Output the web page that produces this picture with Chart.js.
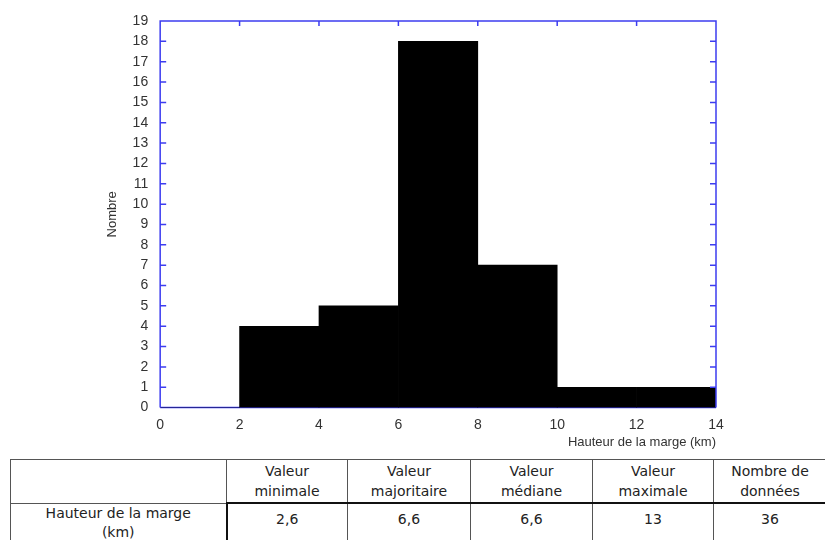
<!DOCTYPE html>
<html lang="fr">
<head>
<meta charset="utf-8">
<script src="https://cdn.jsdelivr.net/npm/chart.js@4/dist/chart.umd.min.js"></script>
<style>
  html, body { margin: 0; padding: 0; background: #fff; overflow: hidden; }
  body { width: 825px; height: 540px; position: relative; }
  #zone { position: absolute; left: 0; top: 0; width: 825px; height: 450px; }
  table {
    position: absolute; left: 10px; top: 459px; width: 816px;
    border-collapse: collapse; font-family: "DejaVu Sans", Verdana, sans-serif;
    font-size: 14px; color: #222; table-layout: fixed;
  }
  td { border: 1px solid #555; text-align: center; padding: 0; line-height: 20px; }
  tr.tete td { height: 42px; }
  tr.ligne td { height: 46px; vertical-align: top; padding-top: 0; line-height: 19px; }
  tr.ligne td.v { border-top: 2px solid #111; }
  tr.ligne td.v1 { border-left: 2px solid #111; }
  td.pointille { border-right: 1.5px dashed #333; }
  tr.ligne td.num { padding-top: 5px; line-height: 20px; }
</style>
</head>
<body>
<div id="zone"><canvas id="histo"></canvas></div>
<table>
  <colgroup>
    <col style="width:216px"><col style="width:121px"><col style="width:123px">
    <col style="width:122px"><col style="width:121px"><col style="width:113px">
  </colgroup>
  <tr class="tete" id="entetes"></tr>
  <tr class="ligne" id="valeurs"></tr>
</table>
<script>
// Classes de l'histogramme (centre de chaque intervalle de 2 km)
const centres = [1, 3, 5, 7, 9, 11, 13];
const effectifs = [0, 4, 5, 18, 7, 1, 1];
const graduationsX = [0, 2, 4, 6, 8, 10, 12, 14];

// Tableau sous le graphique
const colonnes = ['', 'Valeur<br>minimale', 'Valeur<br>majoritaire', 'Valeur<br>médiane', 'Valeur<br>maximale', 'Nombre de<br>données'];
const ligneNom = 'Hauteur de la marge<br>(km)';
const ligneValeurs = ['2,6', '6,6', '6,6', '13', '36'];

const bleu = '#3c3cf0';
const police = { family: 'Liberation Sans, Arial, sans-serif', size: 14 };

// cadre bleu avec graduations intérieures
const cadre = {
    id: 'cadre',
    beforeDatasetsDraw(chart) {
        const { ctx, chartArea: a } = chart;
        ctx.save();
        ctx.strokeStyle = bleu;
        ctx.lineWidth = 1.5;
        ctx.beginPath();
        ctx.moveTo(a.left, a.bottom);
        ctx.lineTo(a.right, a.bottom);
        ctx.stroke();
        ctx.restore();
    },
    afterDatasetsDraw(chart) {
        const { ctx, chartArea: a, scales } = chart;
        ctx.save();
        ctx.strokeStyle = bleu;
        ctx.lineWidth = 1.5;
        ctx.beginPath();
        ctx.moveTo(a.left, a.bottom);
        ctx.lineTo(a.left, a.top);
        ctx.lineTo(a.right, a.top);
        ctx.lineTo(a.right, a.bottom);
        for (let v = 1; v < 19; v++) {
            const y = scales.y.getPixelForValue(v);
            ctx.moveTo(a.left, y);
            ctx.lineTo(a.left + 6, y);
            ctx.moveTo(a.right, y);
            ctx.lineTo(a.right - 6, y);
        }
        graduationsX.slice(1, -1).forEach(v => {
            const x = scales.x.getPixelForValue(v);
            ctx.moveTo(x, a.top);
            ctx.lineTo(x, a.top + 5);
        });
        ctx.stroke();
        ctx.restore();
    }
};

new Chart(document.getElementById('histo'), {
    type: 'bar',
    data: {
        datasets: [{
            data: centres.map((c, i) => ({ x: c, y: effectifs[i] })),
            backgroundColor: '#000',
            borderWidth: 0,
            barPercentage: 1,
            categoryPercentage: 1
        }]
    },
    options: {
        responsive: true,
        maintainAspectRatio: false,
        animation: false,
        layout: { padding: { top: 21, right: 109, left: 105, bottom: 0 } },
        scales: {
            x: {
                type: 'linear',
                min: 0,
                max: 14,
                offset: false,
                grid: { display: false },
                border: { display: false },
                afterBuildTicks: scale => { scale.ticks = graduationsX.map(v => ({ value: v })); },
                ticks: {
                    color: '#333',
                    font: police,
                    padding: 1,
                    maxRotation: 0
                },
                title: {
                    display: true,
                    text: 'Hauteur de la marge (km)',
                    align: 'end',
                    color: '#333',
                    font: { family: police.family, size: 13 },
                    padding: { top: 0, bottom: 0 }
                }
            },
            y: {
                min: 0,
                max: 19,
                grid: { display: false },
                border: { display: false },
                ticks: {
                    stepSize: 1,
                    color: '#333',
                    font: police,
                    padding: 4
                },
                title: {
                    display: true,
                    text: 'Nombre',
                    color: '#333',
                    font: { family: police.family, size: 13 },
                    padding: { top: 0, bottom: 8 }
                }
            }
        },
        plugins: {
            legend: { display: false },
            tooltip: { enabled: false }
        }
    },
    plugins: [cadre]
});

document.getElementById('entetes').innerHTML = colonnes.map((t, i) =>
    '<td' + (i === 4 ? ' class="pointille"' : '') + '>' + t + '</td>').join('');
document.getElementById('valeurs').innerHTML = '<td>' + ligneNom + '</td>' +
    ligneValeurs.map((v, i) => '<td class="v num' + (i === 0 ? ' v1' : '') + (i === 3 ? ' pointille' : '') + '">' + v + '</td>').join('');
</script>
</body>
</html>
